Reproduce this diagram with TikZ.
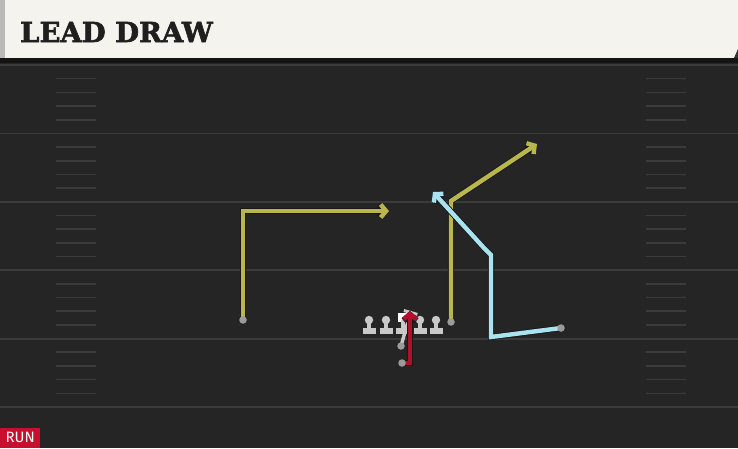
\documentclass[tikz,border=0pt]{standalone}
\usepackage{fontspec}
\usetikzlibrary{arrows.meta}
\newfontfamily\titrefont[BoldFeatures={FakeBold=2.2}]{DejaVu Serif}
\newfontfamily\runfont{Fira Sans}
\definecolor{terrain}{HTML}{252525}
\definecolor{bandeau}{HTML}{F5F3ED}
\definecolor{ligneyard}{HTML}{3B3B3B}
\definecolor{jaune}{HTML}{B8B64C}
\definecolor{bleu}{HTML}{A9E3EF}
\definecolor{rouge}{HTML}{B0102C}
\definecolor{rougerun}{HTML}{C8102E}
\definecolor{joueur}{HTML}{C9C9C9}
\definecolor{depart}{HTML}{9B9B9B}
\tikzset{
  ligne/.style={draw=ligneyard, line width=1.8pt},
  hash/.style={draw=ligneyard, line width=1.6pt},
  route/.style={draw=#1, line width=4.4pt, -{Straight Barb[length=5.5pt,width=13pt]},
    preaction={draw=black!90, line width=6.2pt}},
  depart/.style={circle, fill=depart, inner sep=0pt, minimum size=7.5pt},
}

\begin{document}
\begin{tikzpicture}[x=1pt,y=-1pt]

\def \Largeur {738}
\def \Hauteur {448}
\def \Ecart {68.4} % distance entre deux lignes de 5 yards
\useasboundingbox (0,0) rectangle (\Largeur,\Hauteur);

% fond du terrain
\fill[terrain] (0,0) rectangle (\Largeur,\Hauteur);

% bandeau du titre
\fill[black!92] (0,56) rectangle (\Largeur,63);
\fill[bandeau] (0,0) rectangle (\Largeur,58);
\fill[gray!55] (0,0) rectangle (5,58);
\fill[black!80] (\Largeur,49) -- (\Largeur,58) -- (\Largeur-4,58) -- cycle;
\node[anchor=base west, inner sep=0pt, text=black!88,
  font=\titrefont\bfseries\fontsize{27.5}{27.5}\selectfont] (titre) at (20,42) {LEAD DRAW};

% lignes des 5 yards
\foreach \j in {0,...,5}{\draw[ligne] (0,65+\Ecart*\j) -- (\Largeur,65+\Ecart*\j);}
% marques des yards (hash)
\foreach \k in {1,...,24}{
  \pgfmathtruncatemacro\r{mod(\k,5)}
  \ifnum\r>0
    \draw[hash] (56,65+\Ecart*\k/5) -- (96,65+\Ecart*\k/5);
    \draw[hash] (646,65+\Ecart*\k/5) -- (686,65+\Ecart*\k/5);
  \fi
}

% ligne offensive
\foreach \x in {369,386,420,436}{
  \fill[joueur] (\x,320) circle (4.2);
  \fill[joueur] (\x-1.8,320) rectangle (\x+1.8,330);
  \fill[joueur] (\x-6.5,327.5) rectangle (\x+6.5,334);
}
% centre
\fill[white] (397.5,312.5) rectangle (407,322);
\fill[joueur] (401,320) rectangle (404.5,330);
\fill[joueur] (396,327.5) rectangle (409,334);

% points des routes
\coordinate (A0) at (243,320);
\coordinate (A1) at (243,211);
\coordinate (A2) at (389,211);
\coordinate (B0) at (451,322);
\coordinate (B1) at (451,201);
\coordinate (B2) at (537,144);
\coordinate (C0) at (561,328);
\coordinate (C1) at (491,337);
\coordinate (C2) at (491,255);
\coordinate (C3) at (484,248);
\coordinate (C4) at (433,192);
\coordinate (Q0) at (401,346);
\coordinate (Q1) at (411,311);
\coordinate (R0) at (402,363);
\coordinate (R1) at (410,363);
\coordinate (R2) at (410,311);

% routes
\draw[route=jaune] (A0) -- (A1) -- (A2);
\draw[route=jaune] (B0) -- (B1) -- (B2);
\draw[route=bleu] (C0) -- (C1) -- (C2) -- (C3) -- (C4);
\draw[draw=joueur, line width=3.4pt, -{Bar[width=14pt,line width=3pt]}] (Q0) -- (Q1);
\draw[route=rouge] (R0) -- (R1) -- (R2);

% positions de depart
\node[depart] (dA) at (A0) {};
\node[depart] (dB) at (B0) {};
\node[depart] (dC) at (C0) {};
\node[depart] (dQ) at (Q0) {};
\node[depart] (dR) at (R0) {};

% etiquette
\node[fill=rougerun, text=white, anchor=south west, inner sep=0pt,
  minimum width=40pt, minimum height=20pt,
  font=\runfont\fontsize{15}{15}\selectfont] (run) at (0,\Hauteur) {RUN};

\end{tikzpicture}
\end{document}
